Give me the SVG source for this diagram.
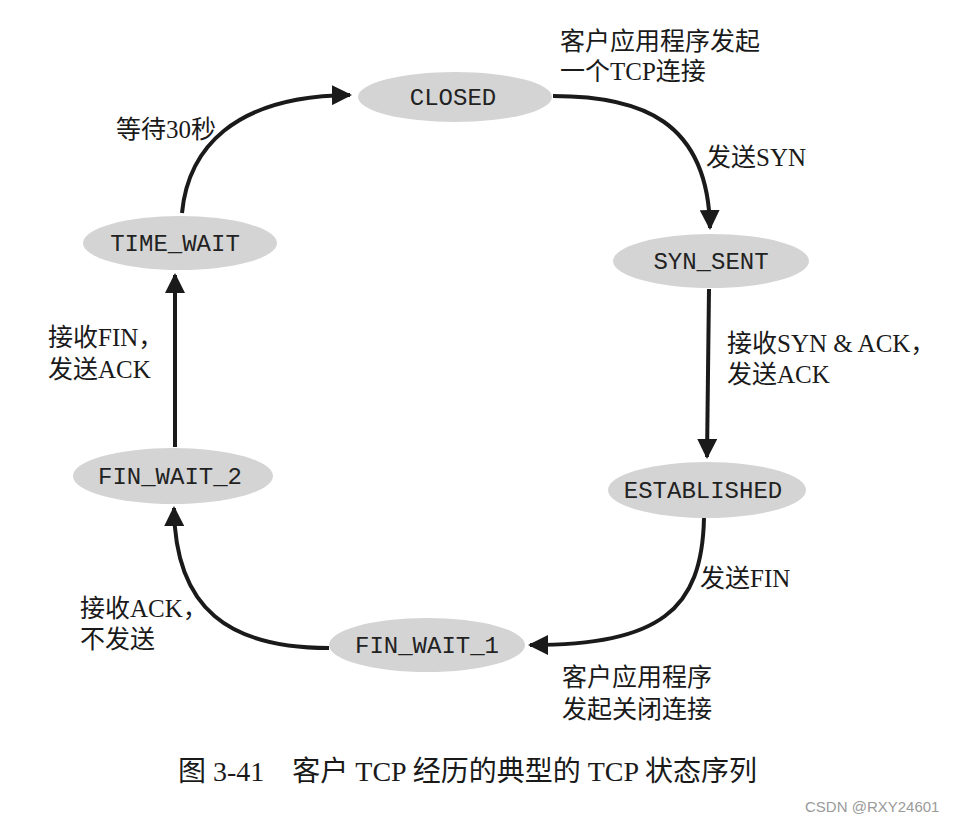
<svg xmlns="http://www.w3.org/2000/svg" width="960" height="824" viewBox="0 0 960 824">
<defs>
<marker id="ah" viewBox="0 0 10 10" refX="9" refY="5" markerWidth="5" markerHeight="5" orient="auto" markerUnits="strokeWidth">
<path d="M0,0 L10,5 L0,10 z" fill="#1a1a1a"/>
</marker>
<style>
.st ellipse{fill:#d4d4d4;stroke:none}
.st text{font-family:"Liberation Mono","DejaVu Sans Mono",monospace;font-size:24px;fill:#222;text-anchor:middle}
.lbl{font-family:"Liberation Serif","Noto Sans CJK SC",serif;font-size:25px;fill:#1a1a1a}
.cap{font-family:"Liberation Serif","Noto Sans CJK SC",serif;font-size:28px;fill:#1a1a1a}
.edge{fill:none;stroke:#1a1a1a;stroke-width:4;marker-end:url(#ah)}
</style>
</defs>
<rect width="960" height="824" fill="#ffffff"/>
<g id="connectors">
<path class="edge" d="M182,213 C188,150 232,96 350,95"/>
<path class="edge" d="M553,96 C640,96 708,120 710,228"/>
<path class="edge" d="M709,289 L707,457"/>
<path class="edge" d="M704,518 C702,610 660,645 530,645"/>
<path class="edge" d="M329,648 C230,648 175,610 174,508"/>
<path class="edge" d="M175,447 L175,275"/>
</g>
<g id="closed" class="st"><ellipse cx="455" cy="97" rx="97" ry="25"/><text x="453" y="105">CLOSED</text></g>
<g id="syn_sent" class="st"><ellipse cx="711" cy="261" rx="98" ry="27"/><text x="711" y="269">SYN_SENT</text></g>
<g id="established" class="st"><ellipse cx="707" cy="490" rx="99" ry="28"/><text x="703" y="498">ESTABLISHED</text></g>
<g id="fin_wait_1" class="st"><ellipse cx="427" cy="645" rx="98" ry="27"/><text x="427" y="653">FIN_WAIT_1</text></g>
<g id="fin_wait_2" class="st"><ellipse cx="173" cy="476" rx="100" ry="28"/><text x="170" y="484">FIN_WAIT_2</text></g>
<g id="time_wait" class="st"><ellipse cx="180" cy="243" rx="97" ry="27"/><text x="175" y="251">TIME_WAIT</text></g>
<g id="labels">
<text class="lbl" x="560" y="50">客户应用程序发起</text>
<text class="lbl" x="560" y="80">一个TCP连接</text>
<text class="lbl" x="706" y="166">发送SYN</text>
<text class="lbl" x="116" y="138">等待30秒</text>
<text class="lbl" x="727" y="352">接收SYN &amp; ACK，</text>
<text class="lbl" x="727" y="383">发送ACK</text>
<text class="lbl" x="48" y="346">接收FIN，</text>
<text class="lbl" x="48" y="378">发送ACK</text>
<text class="lbl" x="700" y="587">发送FIN</text>
<text class="lbl" x="80" y="617">接收ACK，</text>
<text class="lbl" x="80" y="648">不发送</text>
<text class="lbl" x="562" y="686">客户应用程序</text>
<text class="lbl" x="562" y="718">发起关闭连接</text>
<text class="cap" x="178" y="781">图 3-41　客户 TCP 经历的典型的 TCP 状态序列</text>
<text x="805" y="812" style="font-family:'Liberation Sans',sans-serif;font-size:15px;fill:#9a9a9a">CSDN @RXY24601</text>
</g>
</svg>
